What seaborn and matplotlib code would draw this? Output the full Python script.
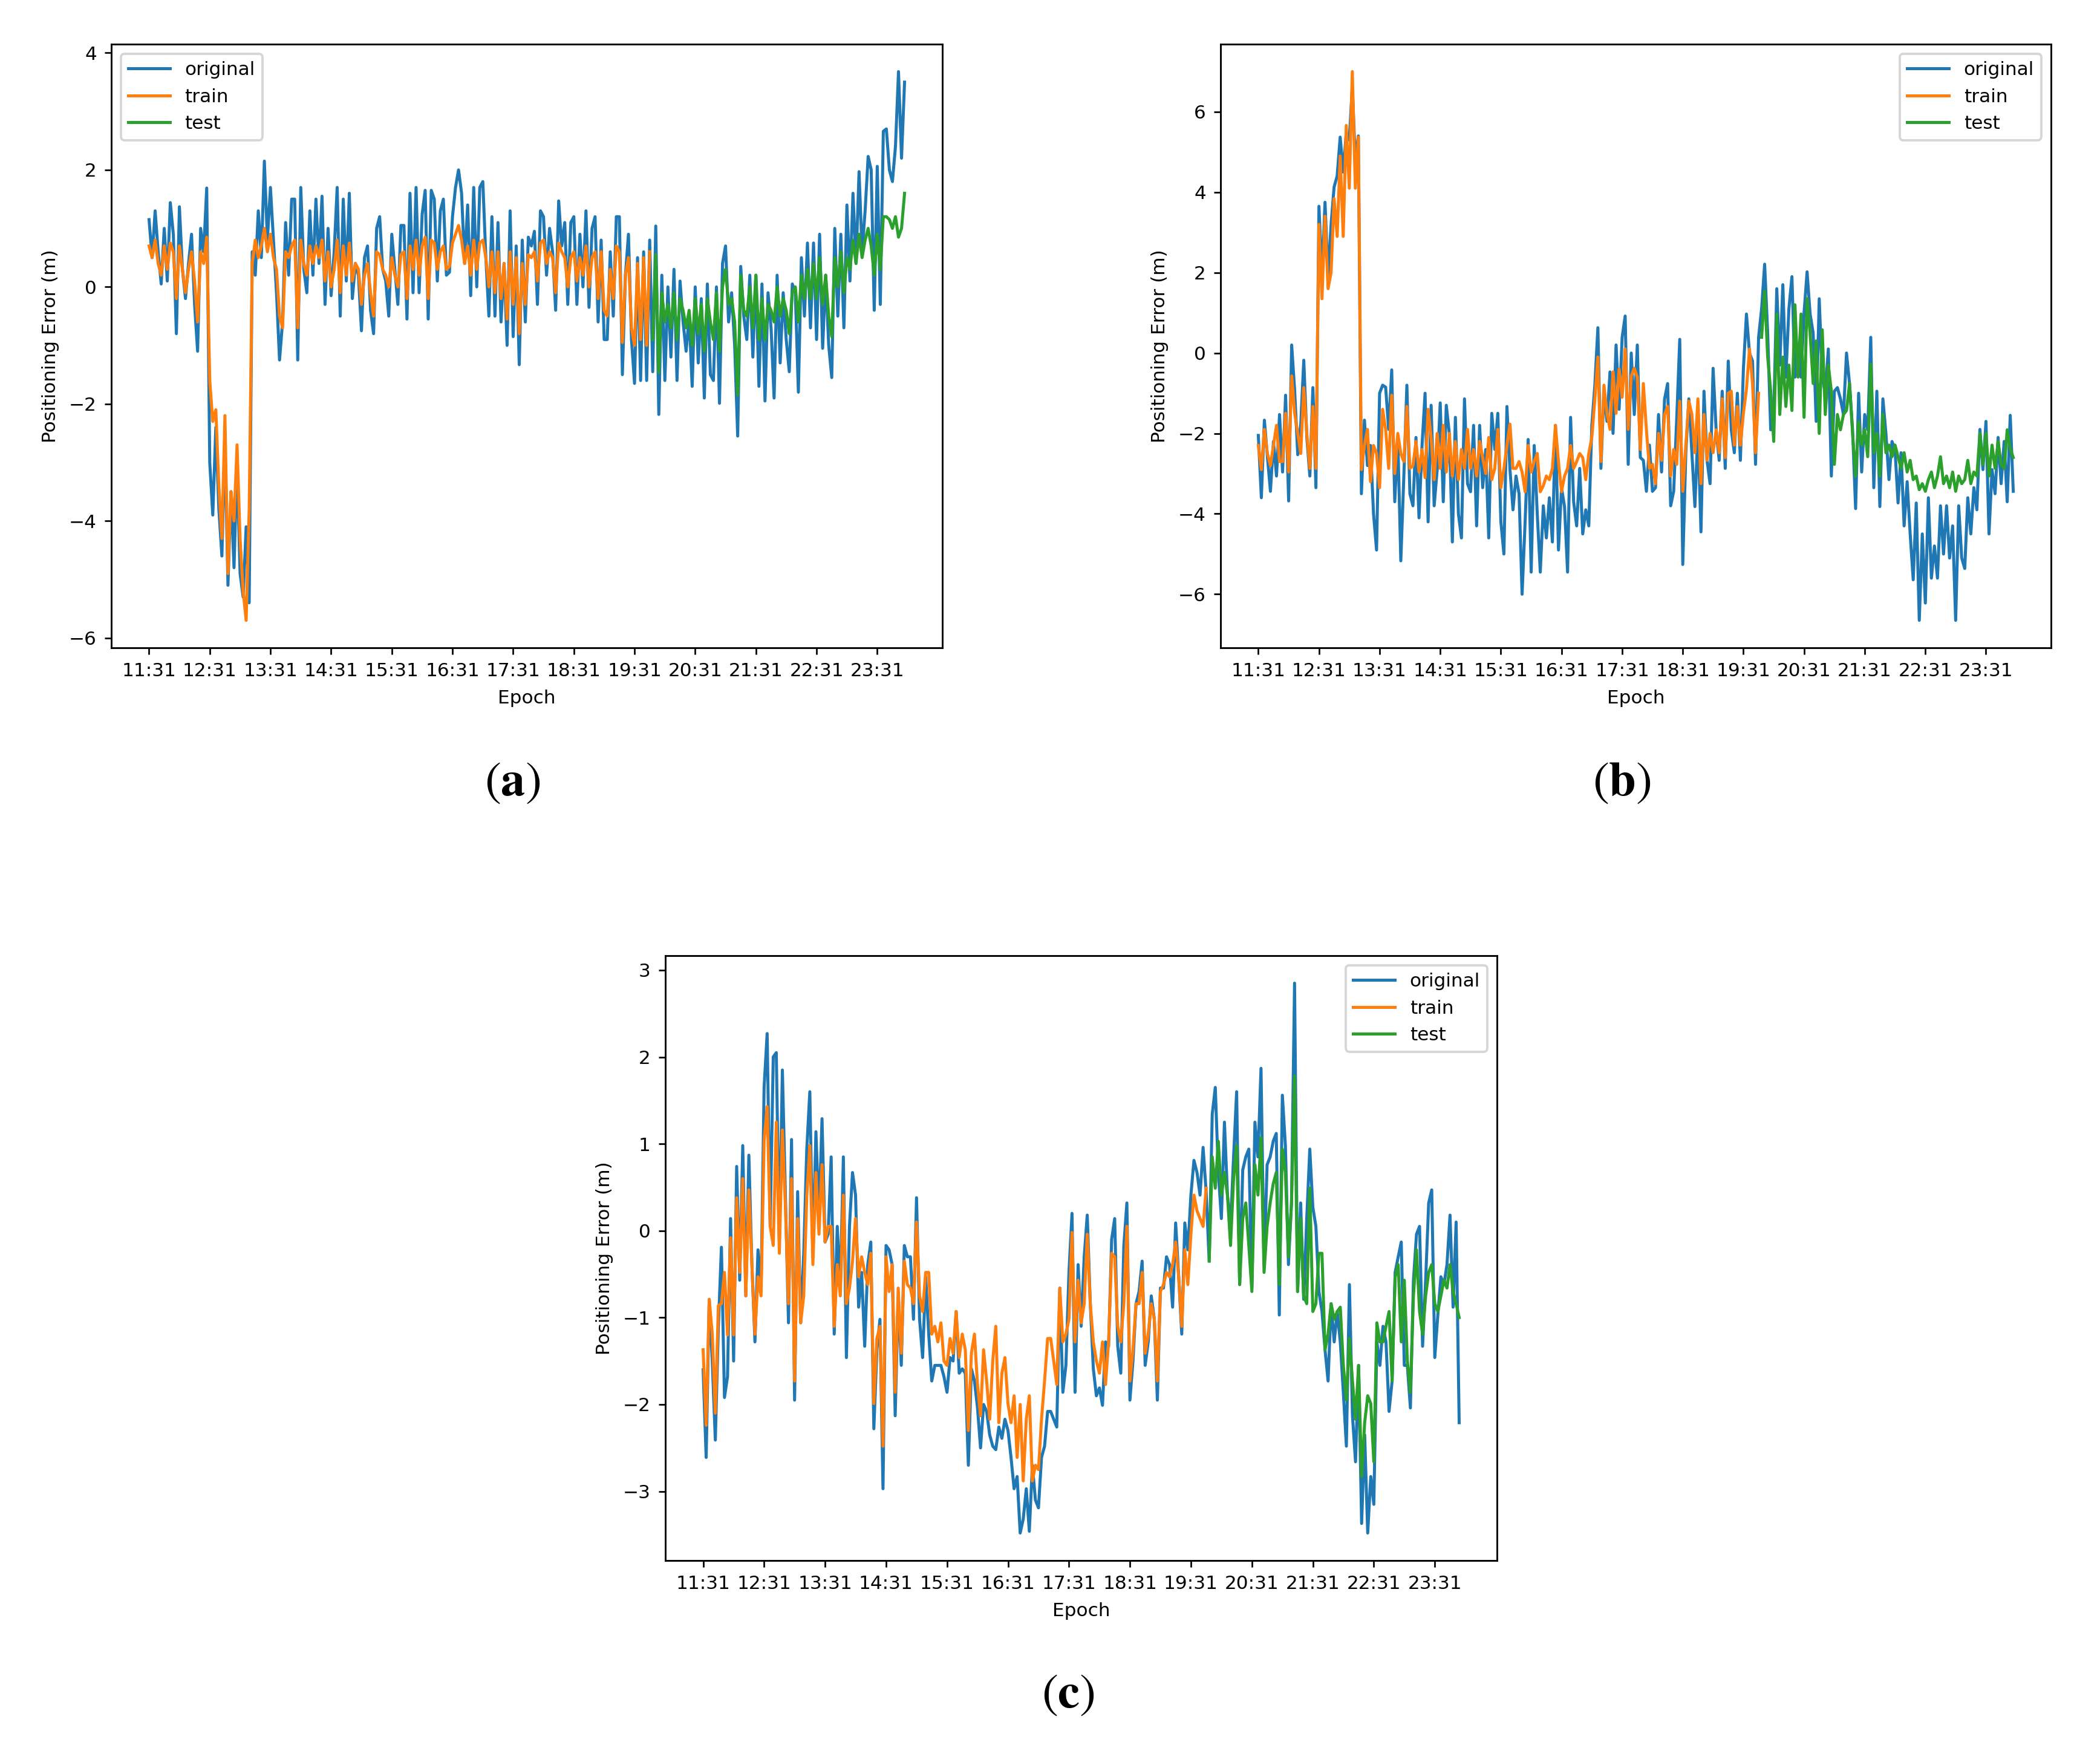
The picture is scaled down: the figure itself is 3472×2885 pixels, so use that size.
import numpy as np
import matplotlib
matplotlib.use("Agg")
import matplotlib.pyplot as plt
import seaborn as sns

# Abstand zwischen zwei Epochen in Stunden (3 min), Stunde 0 = 11:31
STEP_H = 0.05
EPOCH_TICKS = ['11:31', '12:31', '13:31', '14:31', '15:31', '16:31', '17:31',
               '18:31', '19:31', '20:31', '21:31', '22:31', '23:31']
SERIES_NAMES = ['original', 'train', 'test']
PANEL_LABELS = ['a', 'b', 'c']

# ---------------- Panel (a) ----------------
orig_a = [
    1.15, 0.5, 1.3, 0.6, 0.05, 1.0, 0.1, 1.44, 0.9, -0.8, 1.37, 0.3, -0.2, 0.4, 0.9, -0.3, -1.1, 1.0, 0.6, 1.69,
    -3.0, -3.9, -2.4, -3.8, -4.6, -2.6, -5.1, -3.5, -4.8, -3.0, -4.9, -5.3, -4.1, -5.4, 0.6, 0.2, 1.3, 0.5, 2.15, 0.8,
    1.7, 0.8, -0.1, -1.25, -0.6, 1.1, 0.2, 1.5, 1.5, -1.25, 1.7, 0.3, -0.1, 1.3, 0.2, 1.5, 0.4, 1.55, -0.3, 1.0,
    -0.15, 0.6, 1.7, -0.5, 1.5, 0.1, 1.6, -0.2, 0.4, 0.2, -0.75, 0.5, 0.7, -0.4, -0.8, 1.0, 1.2, 0.3, 0.1, -0.5,
    0.9, 0.3, -0.3, 1.05, 1.05, -0.55, 1.6, -0.1, 1.7, -0.1, 1.24, 1.65, -0.55, 1.65, 1.5, 0.1, 1.3, 1.5, 0.2, 0.25,
    1.2, 1.7, 2.0, 1.6, 0.4, 1.4, -0.15, 1.7, 0.0, 1.7, 1.8, 0.5, -0.5, 1.2, -0.5, 1.1, -0.6, 0.4, -1.0, 1.3,
    -0.85, 0.7, -1.33, 0.8, -0.6, 0.85, 0.7, 0.95, -0.3, 1.3, 1.2, 0.2, 1.0, 0.6, -0.4, 1.47, 0.7, 1.1, -0.3, 1.1,
    1.2, -0.3, 0.9, 0.0, 1.3, -0.35, 1.0, 1.2, -0.6, 0.8, -0.9, -0.9, 0.6, -0.5, 1.2, 1.2, -1.5, 0.2, 0.9, -0.9,
    -1.65, 0.5, -1.6, 0.6, -1.6, 0.8,
    -1.45, 1.04, -2.18, 0.2, -1.6, 0.0, -1.2, 0.3, -1.6, 0.1, -0.6, -1.1, -0.5, -1.7, 0.0, -1.3, -0.2, -1.9, 0.05, -1.5,
    -1.6, 0.0, -1.99, 0.4, 0.7, -0.6, -0.1, -1.0, -2.55, 0.35, -0.5, -0.9, 0.2, -1.2, 0.2, -1.7, 0.05, -1.95, -0.1, -0.7,
    -1.9, 0.2, -1.3, -0.1, -0.9, -1.45, 0.05, -0.1, -1.8, 0.5, -0.5, 0.75, -0.7, 0.75, -0.9, 0.9, -1.05, 0.2, -1.0, -1.55,
    1.0, -0.5, 0.9, -0.7, 1.4, 0.1, 1.6, 0.4, 1.97, 0.6, 1.3, 2.23, 2.0, -0.4, 2.06, -0.3, 2.66, 2.7, 2.0, 1.8,
    2.4, 3.68, 2.2, 3.5,
]
train_a = [
    0.7, 0.5, 0.8, 0.4, 0.2, 0.7, 0.3, 0.75, 0.6, -0.2, 0.7, 0.3, -0.1, 0.3, 0.6, 0.1, -0.6, 0.6, 0.4, 0.85,
    -1.6, -2.3, -2.1, -3.4, -4.3, -2.2, -4.9, -3.5, -4.0, -2.7, -4.3, -5.2, -5.7, -3.8, 0.4, 0.8, 0.5, 0.7, 1.0, 0.6,
    0.9, 0.5, 0.3, -0.5, -0.7, 0.6, 0.5, 0.7, 0.8, -0.7, 0.8, 0.4, 0.2, 0.7, 0.4, 0.7, 0.5, 0.8, 0.1, 0.6,
    0.0, 0.3, 0.8, -0.1, 0.7, 0.2, 0.75, 0.1, 0.4, 0.3, -0.3, 0.2, 0.4, -0.1, -0.5, 0.6, 0.55, 0.3, 0.2, 0.0,
    0.5, 0.2, 0.0, 0.55, 0.6, -0.2, 0.7, 0.3, 0.8, 0.2, 0.7, 0.85, -0.2, 0.8, 0.75, 0.3, 0.6, 0.7, 0.3, 0.35,
    0.75, 0.9, 1.05, 0.8, 0.4, 0.7, 0.2, 0.8, 0.3, 0.75, 0.8, 0.5, 0.0, 0.6, -0.1, 0.6, -0.2, 0.4, -0.55, 0.6,
    -0.3, 0.5, -0.8, 0.4, -0.3, 0.55, 0.5, 0.6, 0.1, 0.75, 0.8, 0.4, 0.6, 0.5, -0.1, 0.75, 0.6, 0.5, 0.0, 0.5,
    0.6, 0.1, 0.5, 0.2, 0.7, 0.0, 0.5, 0.6, -0.2, 0.6, -0.4, -0.5, 0.3, -0.2, 0.7, 0.6, -0.95, 0.2, 0.5, -0.7,
    -1.0, 0.4, -0.9, 0.5, -1.0, 0.6,
]
test_a = [
    -0.9, 0.55, -1.46, -0.1, -0.6, -0.3, -0.7, -0.1, -0.9, -0.2, -0.4, -0.7, -0.4, -1.0, -0.2, -0.8, -0.3, -1.1, -0.2, -0.6,
    -0.9, -0.1, -1.1, 0.0, 0.3, -0.3, -0.2, -0.6, -1.85, 0.2, -0.4, -0.5, 0.0, -0.7, 0.2, -0.9, -0.2, -0.9, -0.3, -0.4,
    -0.6, 0.0, -0.5, -0.2, -0.4, -0.8, -0.1, 0.0, -0.6, 0.2, -0.2, 0.3, -0.2, 0.4, -0.2, 0.5, -0.3, 0.2, -0.5, -0.85,
    0.5, 0.0, 0.6, -0.1, 0.5, 0.3, 0.8, 0.4, 0.9, 0.5, 0.8, 1.0, 0.7, 0.2, 0.9, 0.3, 1.2, 1.2, 1.15, 1.0,
    1.2, 0.85, 1.0, 1.6,
]

# ---------------- Panel (b) ----------------
orig_b = [
    -2.05, -3.6, -1.67, -2.58, -3.44, -2.2, -3.06, -1.53, -2.96, -1.05, -3.68, 0.2, -0.95, -2.53, -1.77, -0.18, -2.1, -3.06, -0.86, -3.35,
    3.65, 1.9, 3.75, 1.9, 3.2, 4.13, 4.4, 5.37, 4.5, 5.47, 5.3, 6.62, 4.8, 5.4, -3.5, -1.67, -2.8, -2.3, -4.0, -4.9,
    -1.0, -0.8, -0.85, -1.9, -0.42, -3.7, -2.1, -5.17, -3.06, -0.8, -3.5, -3.8, -2.1, -4.1, -2.3, -1.0, -4.2, -1.3, -3.8, -2.9,
    -1.24, -3.7, -1.3, -2.0, -4.7, -1.6, -4.0, -4.6, -1.14, -3.25, -3.45, -1.8, -4.3, -1.8, -3.35, -2.4, -4.6, -1.5, -2.4, -1.5,
    -4.2, -5.0, -1.33, -2.9, -3.9, -3.06, -3.5, -6.0, -4.2, -2.15, -5.45, -2.3, -4.0, -5.45, -3.8, -4.6, -3.6, -4.7, -1.8, -4.9,
    -3.35, -3.82, -5.45, -1.6, -3.7, -4.3, -2.87, -4.5, -3.9, -4.3, -1.8, -0.8, 0.63, -2.87, -0.95, -1.7, -0.47, -2.0, 0.2, -1.4,
    0.39, 0.92, -2.77, 0.0, -1.53, 0.2, -2.6, -2.67, -3.44, -2.29, -3.44, -3.35, -1.53, -2.96, -1.14, -0.76, -3.8, -3.44, -1.63, 0.34,
    -5.26, -2.48, -1.14, -2.48, -3.82, -1.91, -4.45, -0.95, -2.67, -3.25, -0.38, -1.91, -2.67, -0.95, -2.87, -0.2, -1.91, -2.48, -1.0, -2.67,
    -0.38, 0.97, 0.0, -0.2, -2.77, 0.39,
    1.1, 2.21, 0.5, -1.91, -1.5, 1.6, -0.3, 1.7, -0.6, 1.1, 1.9, -0.6, 0.2, -0.6, 1.0, 2.02, 0.97, 0.5, -1.7, 1.35,
    -0.6, -1.0, 0.1, -3.06, -0.95, -0.86, -1.14, -1.53, 0.0, -0.76, -1.91, -3.87, -1.0, -2.96, -1.53, -1.91, 0.39, -3.35, -0.95, -3.82,
    -1.14, -2.0, -3.15, -2.2, -2.4, -3.73, -2.48, -4.3, -3.2, -4.5, -5.64, -3.73, -6.65, -4.5, -6.22, -3.6, -5.6, -4.8, -5.6, -3.8,
    -5.0, -3.8, -5.1, -4.3, -6.65, -3.8, -5.1, -5.36, -3.6, -4.5, -3.35, -3.9, -1.9, -2.9, -1.7, -4.5, -2.9, -3.5, -2.1, -3.25,
    -2.2, -3.7, -1.55, -3.44,
]
train_b = [
    -2.3, -2.9, -1.9, -2.5, -2.8, -2.3, -1.8, -2.7, -2.7, -1.5, -2.96, -0.57, -1.5, -2.0, -2.5, -0.86, -2.0, -2.87, -1.33, -2.87,
    3.2, 1.35, 3.4, 1.6, 2.0, 3.84, 2.9, 4.9, 2.9, 5.66, 4.1, 7.0, 4.1, 5.37, -2.9, -2.3, -1.9, -3.2, -2.3, -2.5,
    -3.35, -1.4, -1.9, -2.87, -1.05, -3.0, -2.0, -2.5, -2.7, -1.33, -2.87, -2.8, -2.2, -2.96, -2.4, -3.1, -1.4, -2.1, -3.15, -2.0,
    -2.87, -1.8, -2.96, -2.0, -3.06, -2.2, -3.15, -2.4, -2.87, -1.9, -2.87, -2.4, -3.06, -2.2, -2.6, -3.0, -2.1, -3.15, -2.87, -1.9,
    -3.35, -2.87, -2.3, -1.77, -2.87, -2.87, -2.7, -2.96, -3.45, -2.3, -2.96, -2.7, -2.5, -3.45, -3.3, -3.06, -3.15, -2.87, -1.8, -2.7,
    -3.45, -3.06, -2.87, -2.3, -2.87, -2.7, -2.5, -2.6, -3.15, -2.5, -2.1, -1.14, -0.1, -2.7, -0.8, -1.5, -1.9, -0.47, -1.5, -0.4,
    -1.1, 0.1, -1.9, -0.57, -0.38, -0.6, -2.4, -0.76, -1.91, -2.87, -2.77, -3.25, -2.0, -2.67, -1.53, -1.33, -3.06, -2.4, -2.77, -1.2,
    -3.44, -2.29, -1.2, -1.53, -2.48, -1.14, -3.25, -1.53, -2.67, -2.0, -2.48, -1.91, -2.48, -1.14, -2.6, -1.0, -0.95, -2.29, -1.33, -2.29,
    -1.5, -0.9, 0.1, -0.76, -2.48, -1.0,
]
test_b = [
    0.39, 1.54, -0.1, -0.95, -2.2, 0.97, -1.53, -0.1, -1.33, -0.3, -1.43, 1.2, -0.6, 0.97, -1.6, 1.35, 0.48, -0.76, 0.3, -2.0,
    0.58, -1.53, -0.3, -0.95, -2.77, -1.53, -1.91, -1.53, -1.43, -0.76, -2.0, -3.06, -1.72, -2.29, -1.91, -2.58, -0.28, -2.48, -2.0, -3.06,
    -1.53, -2.48, -2.29, -2.58, -2.29, -2.58, -2.87, -2.48, -2.96, -2.67, -3.15, -3.06, -3.4, -3.25, -3.44, -3.15, -2.96, -3.35, -3.06, -2.58,
    -3.25, -3.06, -3.35, -2.96, -3.44, -3.06, -3.25, -3.15, -2.67, -3.25, -2.96, -3.06, -2.0, -2.77, -2.0, -3.06, -2.29, -2.87, -2.2, -2.77,
    -2.87, -1.91, -2.38, -2.6,
]

# ---------------- Panel (c) ----------------
orig_c = [
    -1.6, -2.61, -0.79, -1.5, -2.41, -1.1, -0.19, -1.92, -1.68, 0.14, -1.5, 0.74, -0.57, 0.98, -0.75, 0.87, -0.39, -1.28, -0.22, -0.7,
    1.65, 2.27, 0.05, 2.0, 2.05, -0.13, 1.85, 0.41, -1.06, 1.05, -1.95, 0.45, -1.06, -0.26, 0.94, 1.6, -0.3, 1.14, 0.14, 1.29,
    -0.13, -0.04, 0.85, -1.19, 0.05, -0.66, 0.85, -1.46, 0.05, 0.67, 0.41, -0.88, -0.48, -1.33, -0.39, -0.13, -2.28, -1.37, -1.02, -2.97,
    -0.17, -0.22, -0.39, -2.13, -0.75, -1.55, -0.17, -0.3, -0.3, -1.02, 0.38, -1.02, -1.46, -0.53, -1.19, -1.73, -1.55, -1.55, -1.55, -1.68,
    -1.86, -1.46, -1.5, -0.93, -1.64, -1.59, -1.64, -2.7, -1.59, -1.73, -2.04, -2.5, -2.0, -2.08, -2.35, -2.48, -2.52, -2.26, -2.39, -2.17,
    -2.3, -2.61, -2.97, -2.83, -3.48, -3.32, -2.97, -3.46, -2.7, -3.1, -3.19, -2.61, -2.48, -2.08, -2.08, -2.17, -2.26, -0.66, -1.86, -1.55,
    -0.48, 0.2, -1.86, -0.39, -1.1, -0.3, 0.18, -0.84, -1.59, -1.9, -1.81, -2.01, -1.28, -1.33, -0.1, 0.14, -1.33, -1.64, -0.17, 0.32,
    -1.95, -1.5, -0.84, -0.7, -0.35, -1.55, -1.28, -0.75, -1.02, -1.95, -0.66, -0.66, -0.3, -0.39, -0.88, 0.09, -0.53, -1.19, 0.09, -0.22,
    0.41, 0.81, 0.67, 0.41, 0.96, 0.45,
    -0.35, 1.34, 1.65, 0.67, 0.14, 1.25, 0.41, 0.05, 0.85, 1.6, -0.62, 0.7, 0.85, 0.94, -0.66, 1.25, 0.85, 1.87, -0.39, 0.76,
    0.85, 1.03, 1.12, -0.97, 1.56, 0.98, -0.39, 0.32, 2.85, -0.7, 0.32, -0.79, 0.14, 0.94, 0.27, 0.05, -0.7, -0.93, -1.37, -1.73,
    -0.84, -1.28, -0.93, -1.28, -1.86, -2.48, -0.62, -2.13, -2.66, -1.55, -3.37, -2.35, -3.48, -2.83, -3.15, -1.28, -1.55, -1.1, -1.28, -2.08,
    -1.73, -0.48, -0.3, -0.13, -1.55, -1.55, -2.04, -0.57, -0.04, 0.05, -1.33, -0.57, 0.32, 0.47, -1.46, -0.97, -0.53, -0.62, -0.39, 0.18,
    -0.88, 0.1, -2.21,
]
train_c = [
    -1.37, -2.24, -0.79, -1.19, -2.1, -0.86, -0.84, -0.48, -1.2, -0.08, -1.2, 0.38, -0.48, 0.6, -0.75, 0.47, -0.39, -1.19, -0.53, -0.75,
    1.03, 1.43, 0.05, -0.17, 1.25, -0.26, 1.16, 0.27, -0.84, 0.6, -1.73, 0.14, -1.06, -0.75, 0.4, 0.98, -0.39, 0.67, -0.04, 0.76,
    -0.13, 0.05, 0.05, -1.1, -0.39, -0.75, 0.41, -0.84, -0.66, -0.35, 0.14, -0.53, -0.3, -0.48, -0.62, -0.26, -1.99, -1.24, -1.1, -2.48,
    -0.3, -0.7, -0.39, -1.86, -0.66, -1.41, -0.35, -0.62, -0.66, -0.84, 0.1, -0.75, -0.93, -0.48, -0.48, -1.19, -1.1, -1.28, -1.06, -1.5,
    -1.55, -1.24, -1.41, -0.93, -1.46, -1.19, -1.37, -2.3, -1.41, -1.19, -1.77, -2.13, -1.37, -1.73, -2.17, -1.5, -1.1, -2.21, -1.64, -1.46,
    -1.99, -2.21, -1.9, -2.61, -2.0, -2.88, -2.17, -1.9, -2.88, -2.7, -2.75, -2.17, -1.73, -1.24, -1.24, -1.5, -1.77, -0.66, -1.28, -1.19,
    -1.02, -0.02, -1.28, -0.57, -1.06, -0.84, -0.04, -0.84, -1.28, -1.5, -1.64, -1.28, -1.77, -1.28, -0.26, -0.3, -1.1, -1.28, -0.84, 0.05,
    -1.73, -1.37, -0.84, -0.84, -0.48, -1.41, -1.19, -0.84, -1.02, -1.73, -0.7, -0.62, -0.48, -0.53, -0.39, -0.13, -0.53, -1.1, -0.22, -0.62,
    -0.04, 0.41, 0.23, 0.14, 0.05, 0.49,
]
test_c = [
    -0.35, 0.85, 0.49, 1.03, 0.41, 0.67, 0.41, -0.17, 0.6, 0.98, -0.62, 0.14, 0.32, -0.17, -0.7, 0.76, 0.41, 1.07, -0.48, 0.05,
    0.32, 0.54, 0.67, -0.62, 0.94, 0.67, -0.3, 0.32, 1.78, -0.7, 0.14, -0.75, -0.84, 0.49, -0.93, -0.84, -0.26, -0.26, -1.37, -1.19,
    -0.84, -1.02, -0.93, -0.88, -1.55, -1.95, -1.24, -1.73, -2.17, -1.55, -2.83, -2.21, -1.9, -1.99, -2.66, -1.06, -1.28, -1.28, -1.1, -0.93,
    -1.73, -0.53, -0.39, -1.28, -0.57, -1.5, -1.86, -0.75, -0.22, -0.93, -1.19, -0.75, -0.48, -0.39, -0.84, -0.93, -0.75, -0.57, -0.66, -0.39,
    -0.7, -0.84, -1.0,
]

COLORS = ['#1f77b4', '#ff7f0e', '#2ca02c']

# Achsenpositionen in Pixeln der Vorlage (links, oben, rechts, unten)
W, H, DPI = 3472, 2885, 277
AX_BOXES = [
    (184, 73, 1558, 1071),
    (2018, 73, 3391, 1071),
    (1100, 1580, 2475, 2580),
]
LABEL_POS = [(847, 1293), (2681, 1293), (1766, 2801)]
LEGEND_LOC = ['upper left', 'upper right', 'upper right']


def draw_panel(ax, orig, train, test, legend_loc):
    t_orig = np.arange(len(orig)) * STEP_H
    t_train = np.arange(len(train)) * STEP_H
    t_test = (len(train) + np.arange(len(test))) * STEP_H
    for t, y, name, col in zip([t_orig, t_train, t_test], [orig, train, test],
                               SERIES_NAMES, COLORS):
        sns.lineplot(x=t, y=y, ax=ax, color=col, label=name, linewidth=1.3)
    ax.set_xticks(np.arange(len(EPOCH_TICKS)))
    ax.set_xticklabels(EPOCH_TICKS)
    ax.tick_params(length=2.8, width=0.7)
    ax.set_xlabel('Epoch')
    ax.set_ylabel('Positioning Error (m)')
    ax.legend(loc=legend_loc, handlelength=2.2)


plt.rcParams['font.size'] = 8.1
plt.rcParams['axes.linewidth'] = 0.75
plt.rcParams['mathtext.fontset'] = 'stix'
fig = plt.figure(figsize=(W / DPI, H / DPI), dpi=DPI)

panels = [(orig_a, train_a, test_a), (orig_b, train_b, test_b), (orig_c, train_c, test_c)]
for (l, t, r, b), data, loc, lab, (lx, ly) in zip(AX_BOXES, panels, LEGEND_LOC, PANEL_LABELS, LABEL_POS):
    ax = fig.add_axes([l / W, 1 - b / H, (r - l) / W, (b - t) / H])
    draw_panel(ax, *data, loc)
    fig.text(lx / W, 1 - ly / H, r'$(\mathbf{' + lab + r'})$', ha='center', va='center', fontsize=21)

fig.savefig('out.png', dpi=DPI, facecolor='white')
